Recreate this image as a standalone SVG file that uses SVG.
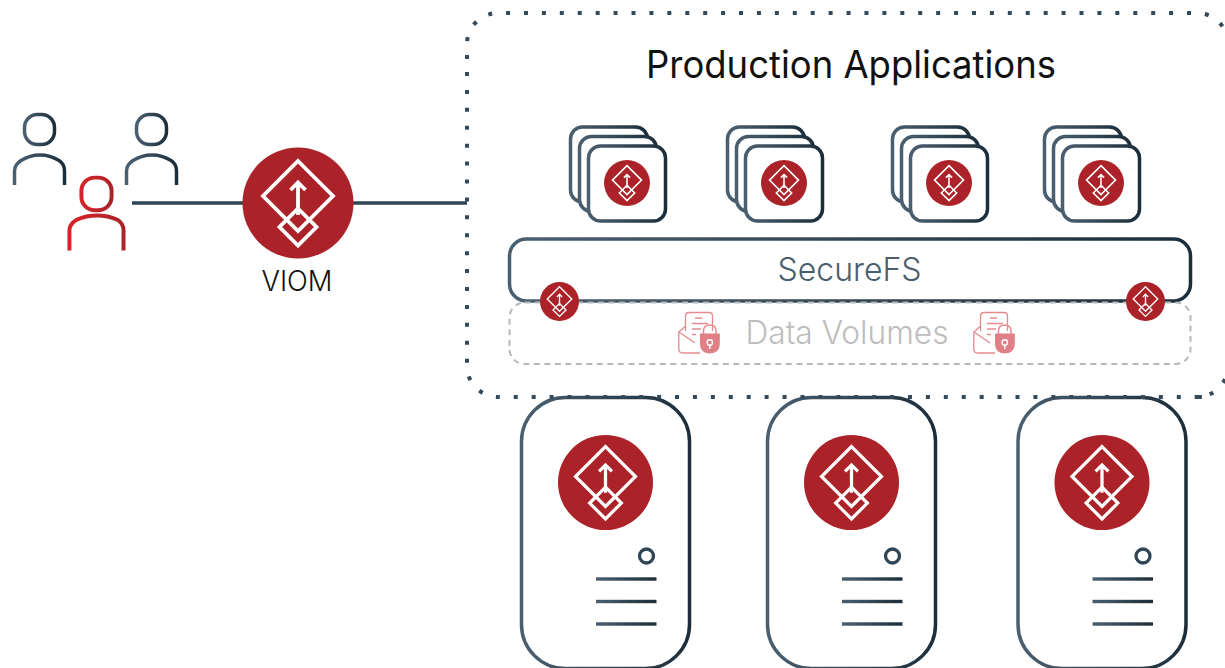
<svg xmlns="http://www.w3.org/2000/svg" xmlns:xlink="http://www.w3.org/1999/xlink" width="1225" height="668" viewBox="0 0 1225 668">
<defs>
<linearGradient id="slate" x1="0" y1="0" x2="1" y2="0"><stop offset="0" stop-color="#4a5f70"/><stop offset="1" stop-color="#1c2e3b"/></linearGradient>
<linearGradient id="red" x1="0" y1="0" x2="1" y2="0"><stop offset="0" stop-color="#d8222a"/><stop offset="1" stop-color="#ab2328"/></linearGradient>
<g id="logo">
<circle r="55.5" fill="#ab2328"/>
<g fill="none" stroke="#fff" stroke-width="3.8">
<path d="M0 -42L35 -7L0 28L-35 -7Z"/>
<path d="M0 5.500L18.500 24L0 42.500L-18.500 24Z"/>
<path d="M0 12V-20M-7.500 -13L0 -20.500L7.500 -13"/>
</g>
</g>
<g id="card"><rect width="77" height="75" rx="12"/></g>
<g id="stack">
<use href="#card" class="c" x="570.500" y="127"/>
<use href="#card" class="c" x="579.500" y="136.500"/>
<use href="#card" class="c" x="588.500" y="146"/>
<use href="#logo" transform="translate(627 183) scale(.414)"/>
</g>
<g id="person" class="line">
<rect x="24.500" y="114.500" width="30" height="30" rx="13"/>
<path d="M14.500 185V171C14.500 166 17 163 21 160.500C33 153 47 153 59 160.500C63 163 64.500 166 64.500 171V185"/>
</g>
<g id="server">
<rect class="line" x="521.500" y="397.500" width="168" height="271" rx="44" fill="#fff"/>
<use href="#logo" transform="translate(605.500 482.500) scale(.856)"/>
<circle cx="646.500" cy="556" r="7" fill="#fff" stroke="#2f4556" stroke-width="3.300"/>
<rect x="596" y="577.300" width="60.500" height="3.400" fill="url(#slate)"/>
<rect x="596" y="599.800" width="60.500" height="3.400" fill="url(#slate)"/>
<rect x="596" y="622.300" width="60.500" height="3.400" fill="url(#slate)"/>
</g>
<g id="lockdoc">
<g fill="none" stroke="#e58a8e" stroke-width="1.300">
<path d="M685.500 331V316Q685.500 312.500 689 312.500H709Q712.500 312.500 712.500 316V331"/>
<path d="M685 326.500L678.800 332V349Q678.800 353 683 353H700"/>
<path d="M679 332L695 343"/>
<path d="M695 318H702M692 323.500H708M692 329H701M692 334.500H696"/>
<path d="M703.500 334V331Q703.500 325 709.800 325Q716 325 716 331V334" stroke-width="1.500"/>
</g>
<path d="M700 333.500H719.800V344Q719.800 353 709.800 353.500Q700 353 700 344Z" fill="#e07f85"/>
<circle cx="709.800" cy="342.500" r="2.700" fill="none" stroke="#fff" stroke-width="1.400"/>
<path d="M709.800 345V349" stroke="#fff" stroke-width="1.400"/>
</g>
</defs>
<style>
.line{fill:none;stroke:url(#slate);stroke-width:3.500}
.c{fill:#fff;stroke:url(#slate);stroke-width:3.500}
.conn{stroke:#2f4556;stroke-width:3.400;fill:none}
.dots{fill:none;stroke:#34495a;stroke-width:4;stroke-dasharray:4 13.920}
text{font-family:Inter,"Liberation Sans",sans-serif}
</style>

<g id="connectors">
<path class="conn" d="M132 203H245M352 203H467"/>
</g>

<g id="users">
<use id="user-left" href="#person"/>
<use id="user-right" href="#person" x="112"/>
<g id="user-red" transform="translate(68.400 178.400) scale(1.040 1.020)" fill="none" stroke="url(#red)" stroke-width="3.800">
<rect x="12.500" y="-.8" width="29" height="32" rx="13"/>
<path d="M1 71.600V52C1 47 4 44 8 41.500C20 36 35 36 47 41.500C51 44 53 47 53 52V71.600" transform="translate(0 -1)"/>
</g>
</g>

<g id="viom">
<use href="#logo" x="298" y="203"/>
<text x="297" y="291" font-size="28" font-weight="300" text-anchor="middle" fill="#111" textLength="71" lengthAdjust="spacingAndGlyphs">VIOM</text>
</g>

<g id="server-1"><use href="#server"/></g>
<g id="server-2"><use href="#server" x="246"/></g>
<g id="server-3"><use href="#server" x="496.500"/></g>

<g id="production-applications">
<path class="dots" d="M467 59V44A31 31 0 0 1 498 13H1197A31 31 0 0 1 1228 44V366A31 31 0 0 1 1197 397H1205"/>
<path class="dots" d="M1198.700 397H498A31 31 0 0 1 467 366V59"/>
<text x="851" y="78" font-size="37.500" text-anchor="middle" fill="#111" textLength="410" lengthAdjust="spacingAndGlyphs">Production Applications</text>
</g>

<g id="app-1"><use href="#stack"/></g>
<g id="app-2"><use href="#stack" x="157"/></g>
<g id="app-3"><use href="#stack" x="322"/></g>
<g id="app-4"><use href="#stack" x="474"/></g>

<g id="securefs">
<rect class="line" x="509.500" y="239" width="681" height="62" rx="17"/>
<text x="849.500" y="281" font-size="33" font-weight="300" text-anchor="middle" fill="#4a5d6c" textLength="144" lengthAdjust="spacingAndGlyphs">SecureFS</text>
</g>

<g id="data-volumes">
<rect x="509.500" y="302.500" width="681" height="61.500" rx="15" fill="none" stroke="#b4b9bc" stroke-width="2" stroke-dasharray="6 4.500"/>
<use href="#lockdoc"/>
<use href="#lockdoc" x="295"/>
<text x="847" y="344" font-size="32" font-weight="300" text-anchor="middle" fill="#bdbdbd" textLength="203" lengthAdjust="spacingAndGlyphs">Data Volumes</text>
</g>

<g id="securefs-agents">
<use href="#logo" transform="translate(559.500 301.500) scale(.351)"/>
<use href="#logo" transform="translate(1145.500 301.500) scale(.351)"/>
</g>
</svg>
